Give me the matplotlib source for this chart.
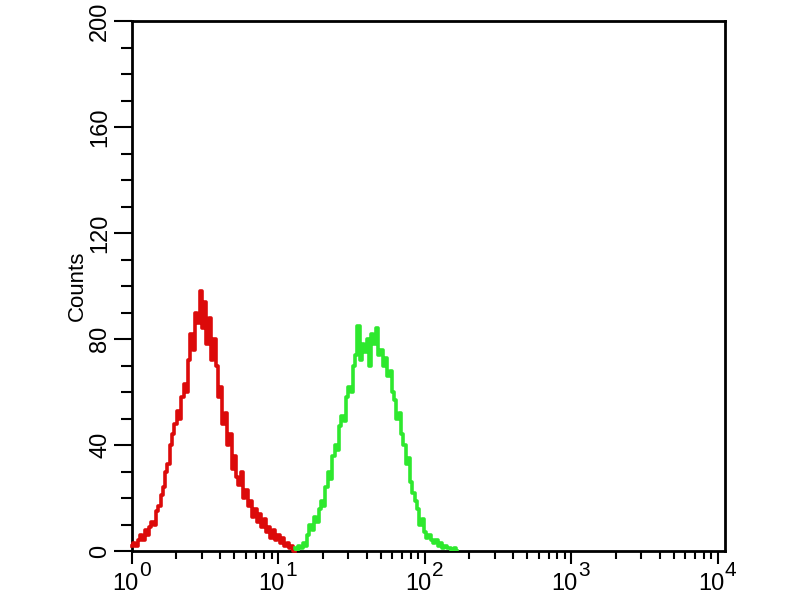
import numpy as np
import matplotlib
matplotlib.use('Agg')
import matplotlib.pyplot as plt
from matplotlib.ticker import FixedLocator, NullFormatter

plt.rcParams['font.family'] = ['Liberation Sans', 'DejaVu Sans']

# histogram channels: 64 channels per decade, 4 decades
ch_per_decade = 64

red_start = 0
red_counts = [2, 3, 2, 4, 6, 4, 8, 6, 9, 11, 10, 15, 17, 21, 24, 30, 33, 40, 44, 48,
              53, 50, 58, 63, 60, 72, 82, 76, 90, 86, 98, 84, 94, 78, 88, 72, 80, 70, 58, 62,
              48, 52, 40, 44, 31, 36, 28, 25, 30, 20, 23, 17, 19, 13, 16, 11, 14, 9, 12, 7,
              9, 5, 8, 4, 6, 3, 5, 2, 3, 1, 2, 0]

green_start = 71
green_counts = [1, 0, 2, 1, 3, 2, 6, 10, 8, 13, 11, 16, 19, 17, 24, 30, 27, 36, 40, 38,
                47, 51, 49, 58, 62, 60, 70, 74, 85, 72, 78, 75, 80, 70, 82, 78, 84, 74, 76, 70,
                73, 66, 68, 60, 57, 50, 52, 44, 40, 33, 35, 26, 22, 19, 16, 10, 12, 7, 5, 6,
                4, 3, 4, 2, 3, 1, 2, 1, 1, 0, 1, 0]

y_major = [0, 40, 80, 120, 160, 200]
decades = [1, 10, 100, 1000, 10000]
exponents = ['0', '1', '2', '3', '4']

fig = plt.figure(figsize=(8, 6), dpi=100)
ax = fig.add_axes([132 / 800, 49 / 600, 593 / 800, 530 / 600])

red_x = 10 ** ((red_start + np.arange(len(red_counts))) / ch_per_decade)
green_x = 10 ** ((green_start + np.arange(len(green_counts))) / ch_per_decade)

ax.step(red_x, red_counts, where='mid', color='#dc0a0a', lw=2.6, clip_on=False, zorder=3)
ax.step(green_x, green_counts, where='mid', color='#2ee82e', lw=2.6, zorder=3)

ax.set_xscale('log')
ax.set_xlim(1, 10 ** 4.048)
ax.set_ylim(0, 200)

# y axis ticks
ax.set_yticks(y_major)
ax.yaxis.set_minor_locator(FixedLocator(range(0, 201, 10)))
ax.tick_params(axis='y', which='major', direction='out', length=13, width=1.5,
               labelsize=17, pad=2)
ax.tick_params(axis='y', which='minor', direction='out', length=8, width=1.5)
for lab in ax.get_yticklabels():
    lab.set_rotation(90)
    lab.set_va('center')

# x axis ticks, labels drawn by hand so the exponent is large
ax.set_xticks(decades)
ax.xaxis.set_minor_locator(FixedLocator([m * d for d in decades[:-1] for m in range(2, 10)]))
ax.xaxis.set_major_formatter(NullFormatter())
ax.xaxis.set_minor_formatter(NullFormatter())
ax.tick_params(axis='x', which='major', direction='out', length=9, width=1.5)
ax.tick_params(axis='x', which='minor', direction='out', length=6, width=1.5)

for d, e in zip(decades, exponents):
    ax.annotate('10', xy=(d, 0), xycoords=('data', 'axes fraction'),
                xytext=(4.5, -15.5), textcoords='offset points',
                ha='right', va='top', fontsize=17, annotation_clip=False)
    ax.annotate(e, xy=(d, 0), xycoords=('data', 'axes fraction'),
                xytext=(5.0, -7.5), textcoords='offset points',
                ha='left', va='top', fontsize=15, annotation_clip=False)

ax.set_ylabel('Counts', fontsize=16, labelpad=1)

for sp in ax.spines.values():
    sp.set_linewidth(2)

fig.savefig('out.png', dpi=100)
